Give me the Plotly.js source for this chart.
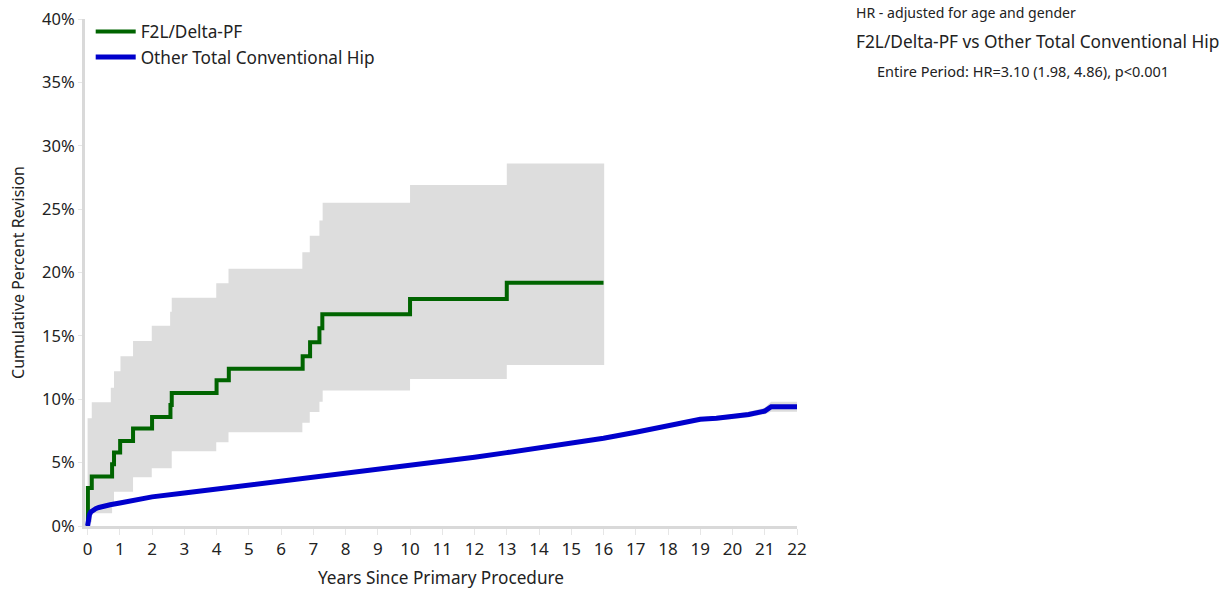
<!DOCTYPE html>
<html>
<head>
<meta charset="utf-8">
<script src="https://cdn.plot.ly/plotly-3.0.1.min.js"></script>
<style>html,body{margin:0;padding:0;background:#fff;}#chart{width:1226px;height:589px;}</style>
</head>
<body>
<div id="chart"></div>
<script>
// F2L/Delta-PF cumulative percent revision (step function)
const f2lYears = [0, 0.01, 0.13, 0.76, 0.82, 1.01, 1.41, 2.0, 2.57, 2.61, 4.0, 4.38, 6.67, 6.9, 7.19, 7.28, 10.0, 13.0, 16.0];
const f2lCPR   = [0, 3.0, 3.9, 4.87, 5.8, 6.7, 7.7, 8.6, 9.55, 10.5, 11.5, 12.4, 13.4, 14.5, 15.6, 16.7, 17.9, 19.2, 19.2];
// F2L/Delta-PF 95% CI
const f2lCIYears = [0, 0.13, 0.72, 0.76, 0.82, 1.02, 1.41, 1.99, 2.56, 2.61, 3.99, 4.37, 6.66, 6.89, 7.19, 7.29, 10.0, 13.0, 16.02];
const f2lUpper   = [8.5, 9.76, 10.9, 10.9, 12.2, 13.4, 14.6, 15.8, 16.9, 18.0, 19.15, 20.3, 21.6, 22.9, 24.1, 25.5, 26.9, 28.6, 28.6];
const f2lLower   = [0.3, 1.0, 1.0, 1.8, 2.7, 2.7, 3.84, 4.55, 4.55, 5.9, 6.6, 7.4, 8.15, 9.0, 9.8, 10.7, 11.6, 12.7, 12.7];

// Other Total Conventional Hip
const otherYears = [0, 0.01, 0.03, 0.06, 0.1, 0.16, 0.25, 0.35, 0.5, 0.7, 1, 1.5, 2, 3, 4, 5, 6, 7, 8, 9, 10, 11, 12, 13, 14, 15, 16, 17, 18, 18.5, 19, 19.5, 20, 20.5, 21, 21.2, 22];
const otherCPR   = [0, 0.3, 0.62, 0.9, 1.1, 1.25, 1.37, 1.46, 1.57, 1.68, 1.82, 2.07, 2.3, 2.6, 2.91, 3.2, 3.51, 3.82, 4.15, 4.47, 4.79, 5.1, 5.43, 5.79, 6.15, 6.5, 6.93, 7.4, 7.9, 8.2, 8.42, 8.5, 8.62, 8.8, 9.07, 9.41, 9.41];
const otherUpper = [0, 0.33, 0.66, 0.95, 1.15, 1.3, 1.42, 1.51, 1.62, 1.73, 1.87, 2.12, 2.35, 2.65, 2.96, 3.25, 3.56, 3.87, 4.2, 4.52, 4.85, 5.16, 5.5, 5.86, 6.23, 6.58, 7.02, 7.5, 8.02, 8.34, 8.58, 8.68, 8.82, 9.02, 9.32, 9.8, 9.8];
const otherLower = [0, 0.27, 0.58, 0.85, 1.05, 1.2, 1.32, 1.41, 1.52, 1.63, 1.77, 2.02, 2.25, 2.55, 2.86, 3.15, 3.46, 3.77, 4.1, 4.42, 4.73, 5.04, 5.36, 5.72, 6.07, 6.42, 6.84, 7.3, 7.78, 8.06, 8.26, 8.32, 8.42, 8.58, 8.82, 9.02, 9.02];

const yTicks = [0, 5, 10, 15, 20, 25, 30, 35, 40];
const yTickText = ["0%", "5%", "10%", "15%", "20%", "25%", "30%", "35%", "40%"];
const xTicks = [0,1,2,3,4,5,6,7,8,9,10,11,12,13,14,15,16,17,18,19,20,21,22];

const seriesNames = ["F2L/Delta-PF", "Other Total Conventional Hip"];
const green = "rgb(0,100,0)";
const blue = "rgb(0,0,204)";
const band = "rgb(221,221,221)";
const FONT = "Noto Sans, Open Sans, sans-serif";

const traces = [
  {x: f2lCIYears, y: f2lLower, mode: "lines", line: {width: 0, shape: "hv"}, showlegend: false, hoverinfo: "skip"},
  {x: f2lCIYears, y: f2lUpper, mode: "lines", line: {width: 0, shape: "hv"}, fill: "tonexty", fillcolor: band, showlegend: false, hoverinfo: "skip"},
  {x: otherYears, y: otherLower, mode: "lines", line: {width: 0}, showlegend: false, hoverinfo: "skip"},
  {x: otherYears, y: otherUpper, mode: "lines", line: {width: 0}, fill: "tonexty", fillcolor: band, showlegend: false, hoverinfo: "skip"},
  {x: f2lYears, y: f2lCPR, mode: "lines", name: seriesNames[0], line: {color: green, width: 4, shape: "hv"}},
  {x: otherYears, y: otherCPR, mode: "lines", name: seriesNames[1], line: {color: blue, width: 5}}
];

const layout = {
  width: 1226, height: 589,
  margin: {l: 85, r: 429, t: 19, b: 63, pad: 0},
  paper_bgcolor: "#fff", plot_bgcolor: "#fff",
  font: {family: FONT, size: 16, color: "#222"},
  showlegend: true,
  legend: {x: 0.008, y: 1.01, xanchor: "left", yanchor: "top", bgcolor: "rgba(0,0,0,0)", traceorder: "normal",
           font: {family: FONT, size: 17.2, color: "#222"}, tracegroupgap: 0, itemwidth: 40},
  xaxis: {
    range: [-0.08, 22], tickvals: xTicks, ticktext: xTicks.map(String),
    showgrid: false, zeroline: false, showline: true, linecolor: "#d9d9d9", linewidth: 3,
    ticks: "outside", ticklen: 6, tickcolor: "#e6e6e6", tickwidth: 1,
    tickfont: {family: FONT, size: 17, color: "#222"},
    title: {text: "Years Since Primary Procedure", font: {family: FONT, size: 17.2, color: "#222"}, standoff: 14}
  },
  yaxis: {
    range: [0, 40], tickvals: yTicks, ticktext: yTickText,
    showgrid: false, zeroline: false, showline: true, linecolor: "#d9d9d9", linewidth: 3,
    ticks: "outside", ticklen: 4, tickcolor: "#e6e6e6", tickwidth: 1,
    tickfont: {family: FONT, size: 16.5, color: "#222"},
    title: {text: "Cumulative Percent Revision", font: {family: FONT, size: 16, color: "#222"}, standoff: 14}
  },
  annotations: [
    {xref: "paper", yref: "paper", x: 1.080, y: 1.012, xanchor: "left", yanchor: "middle", showarrow: false,
     text: "HR - adjusted for age and gender", font: {family: FONT, size: 14.1, color: "#222"}},
    {xref: "paper", yref: "paper", x: 1.080, y: 0.955, xanchor: "left", yanchor: "middle", showarrow: false,
     text: "F2L/Delta-PF vs Other Total Conventional Hip", font: {family: FONT, size: 17.3, color: "#222"}},
    {xref: "paper", yref: "paper", x: 1.1096, y: 0.897, xanchor: "left", yanchor: "middle", showarrow: false,
     text: "Entire Period: HR=3.10 (1.98, 4.86), p<0.001", font: {family: FONT, size: 14.5, color: "#222"}}
  ]
};

Plotly.newPlot("chart", traces, layout, {displayModeBar: false, staticPlot: true});
</script>
</body>
</html>
